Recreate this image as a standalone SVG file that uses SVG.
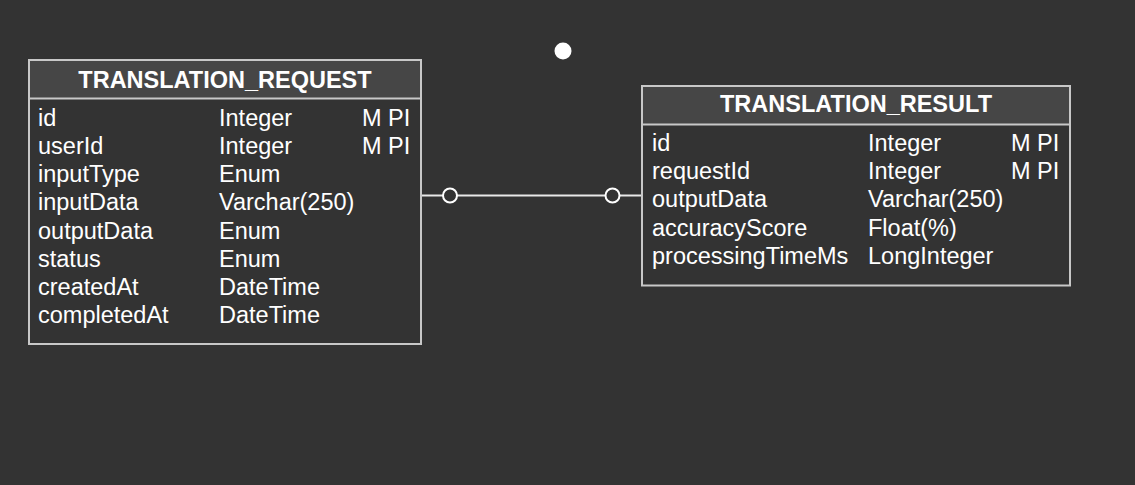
<svg xmlns="http://www.w3.org/2000/svg" width="1135" height="485" viewBox="0 0 1135 485">
<style>
.bg{fill:#333333}
.box{fill:#333333;stroke:#c8c8c8;stroke-width:2}
.hdr{fill:#464646;stroke:#c8c8c8;stroke-width:2}
.title{font-family:"Liberation Sans",Arial,sans-serif;font-size:23.5px;font-weight:bold;fill:#ffffff;text-anchor:middle}
.t{font-family:"Liberation Sans",Arial,sans-serif;font-size:23.5px;fill:#ffffff}
.conn{stroke:#e8e8e8;stroke-width:2;fill:none}
.ring{fill:#333333;stroke:#ffffff;stroke-width:2}
</style>
<rect class="bg" x="0" y="0" width="1135" height="485"/>
<circle cx="563" cy="51" r="8.5" fill="#ffffff"/>
<g id="connectors">
<line class="conn" x1="421" y1="195.5" x2="642" y2="195.5"/>
<circle class="ring" cx="450" cy="195.5" r="7"/>
<circle class="ring" cx="612.5" cy="195.5" r="7"/>
</g>
<g id="translation_request">
<rect class="box" x="29" y="60" width="392" height="284"/>
<rect class="hdr" x="29" y="60" width="392" height="38.5"/>
<text class="title" x="225" y="87.5">TRANSLATION_REQUEST</text>
<text class="t" x="38" y="126">id</text><text class="t" x="219" y="126">Integer</text><text class="t" x="362" y="126">M PI</text>
<text class="t" x="38" y="154">userId</text><text class="t" x="219" y="154">Integer</text><text class="t" x="362" y="154">M PI</text>
<text class="t" x="38" y="182">inputType</text><text class="t" x="219" y="182">Enum</text>
<text class="t" x="38" y="210">inputData</text><text class="t" x="219" y="210">Varchar(250)</text>
<text class="t" x="38" y="239">outputData</text><text class="t" x="219" y="239">Enum</text>
<text class="t" x="38" y="267">status</text><text class="t" x="219" y="267">Enum</text>
<text class="t" x="38" y="295">createdAt</text><text class="t" x="219" y="295">DateTime</text>
<text class="t" x="38" y="323">completedAt</text><text class="t" x="219" y="323">DateTime</text>
</g>
<g id="translation_result">
<rect class="box" x="642" y="86" width="428" height="199.5"/>
<rect class="hdr" x="642" y="86" width="428" height="38.5"/>
<text class="title" x="856" y="112">TRANSLATION_RESULT</text>
<text class="t" x="652" y="151">id</text><text class="t" x="868" y="151">Integer</text><text class="t" x="1011" y="151">M PI</text>
<text class="t" x="652" y="179">requestId</text><text class="t" x="868" y="179">Integer</text><text class="t" x="1011" y="179">M PI</text>
<text class="t" x="652" y="207">outputData</text><text class="t" x="868" y="207">Varchar(250)</text>
<text class="t" x="652" y="236">accuracyScore</text><text class="t" x="868" y="236">Float(%)</text>
<text class="t" x="652" y="264">processingTimeMs</text><text class="t" x="868" y="264">LongInteger</text>
</g>
</svg>
